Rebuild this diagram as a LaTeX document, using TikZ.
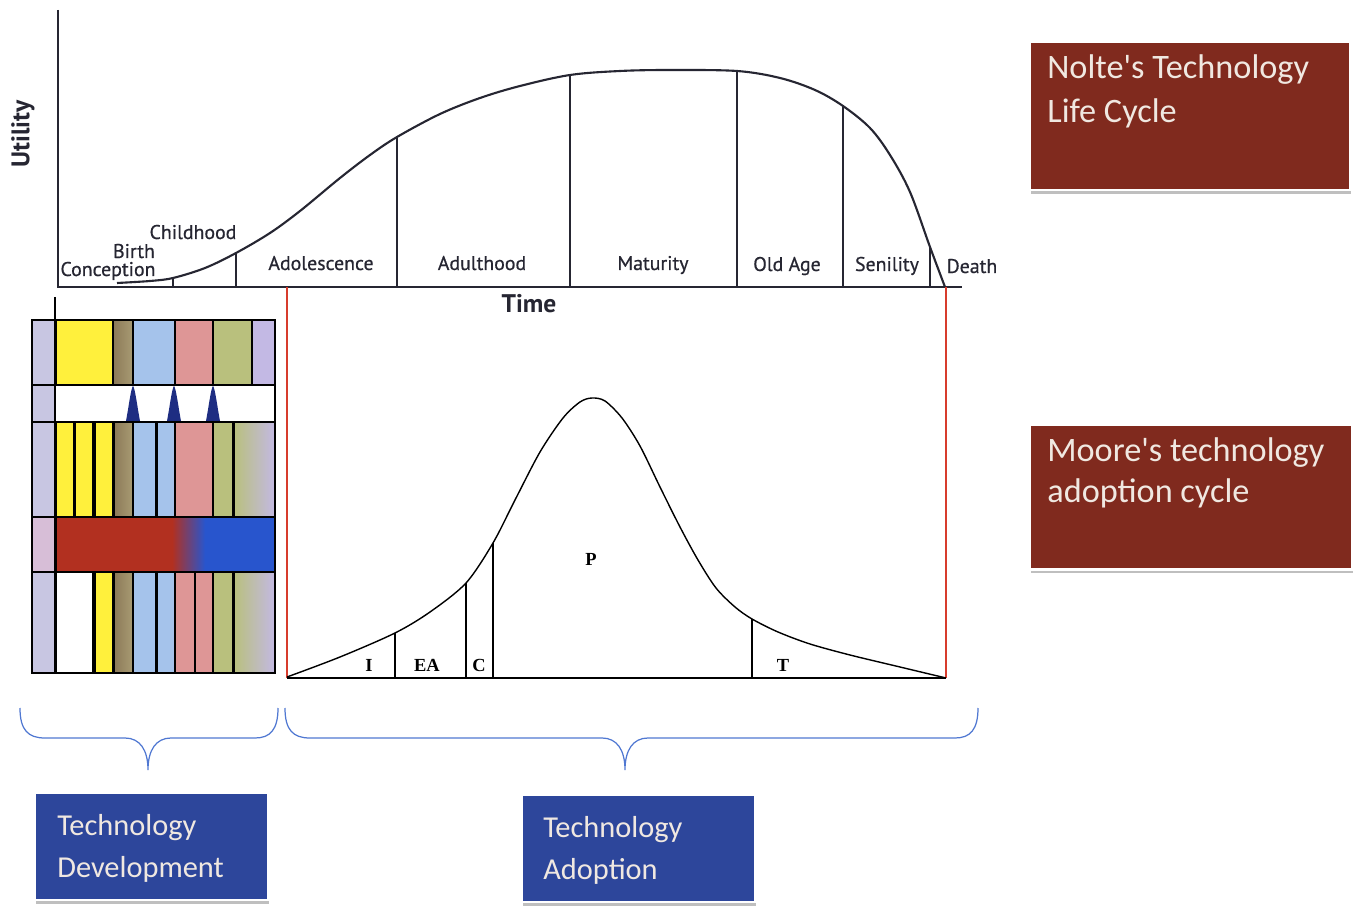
\documentclass[tikz,border=0pt]{standalone}
\usepackage{fontspec}
\setmainfont{PT Sans}
\newfontfamily\stagefont{PT Sans}[FakeBold=0.6]
\newfontfamily\boxfont{Carlito}
\newfontfamily\bellfont{Liberation Serif}
\usetikzlibrary{shadows}

\definecolor{inkline}{RGB}{38,38,50}
\definecolor{redline}{RGB}{215,60,45}
\definecolor{brick}{RGB}{128,42,30}
\definecolor{navybox}{RGB}{45,70,155}
\definecolor{bracecol}{RGB}{80,120,210}
\definecolor{boxtextcol}{RGB}{240,232,225}
\definecolor{hdrcol}{RGB}{200,198,226}
\definecolor{hdrpink}{RGB}{215,190,215}
\definecolor{yelcol}{RGB}{255,240,60}
\definecolor{khakiA}{RGB}{140,122,88}
\definecolor{khakiB}{RGB}{168,155,115}
\definecolor{lbluecol}{RGB}{165,195,235}
\definecolor{pinkcol}{RGB}{222,150,150}
\definecolor{olivecol}{RGB}{185,192,125}
\definecolor{lavcol}{RGB}{195,185,228}
\definecolor{devred}{RGB}{178,48,32}
\definecolor{devblue}{RGB}{40,85,205}
\definecolor{conecol}{RGB}{30,45,130}

\tikzset{
  axisline/.style={draw=inkline, line width=1.2pt},
  divider/.style={draw=inkline, line width=0.9pt},
  lifecurve/.style={draw=inkline, line width=1.2pt},
  stage/.style={font=\stagefont\fontsize{11.3}{13}\selectfont, text=inkline, inner sep=0pt, anchor=base},
  axislabel/.style={font=\bfseries\fontsize{14.5}{16}\selectfont, text=inkline, inner sep=0pt},
  bellline/.style={draw=black, line width=0.8pt},
  belllabel/.style={font=\bellfont\bfseries\fontsize{10.5}{12}\selectfont, inner sep=0pt, anchor=base},
  redmark/.style={draw=redline, line width=1pt},
  cell/.style={draw=black, line width=0.7pt},
  brace/.style={draw=bracecol, line width=0.7pt},
  panel/.style={draw=white, line width=1.5pt, inner sep=0pt,
    drop shadow={shadow xshift=0.6pt, shadow yshift=-2.2pt, fill=black!55, opacity=0.45}},
  redpanel/.style={panel, fill=brick, minimum width=6.4cm, minimum height=2.96cm},
  bluepanel/.style={panel, fill=navybox, minimum width=4.66cm, minimum height=2.14cm},
  paneltext/.style={font=\boxfont\fontsize{19.5}{22}\selectfont, text=boxtextcol, inner sep=0pt, anchor=base west},
  smallpaneltext/.style={paneltext, font=\boxfont\fontsize{17.3}{20}\selectfont},
}

\begin{document}
\begin{tikzpicture}[x=0.02cm, y=-0.02cm]
\path[use as bounding box, fill=white] (0,0) rectangle (1360,915);

% ---------- life cycle chart ----------
\draw[axisline] (58,10) -- (58,287) -- (962,287);
\draw[lifecurve] plot[smooth, tension=0.55] coordinates {
  (117,283) (150,281) (173,278) (205,268) (236,253) (270,233) (300,211)
  (340,178) (370,155) (397,137) (440,114) (480,98) (520,86) (570,75)
  (620,71) (670,70) (737,71) (780,78) (815,90) (843,106) (870,128)
  (890,155) (910,192) (930,247) (945,287)};
\draw[divider] (173,287) -- (173,278);
\draw[divider] (236,287) -- (236,253);
\draw[divider] (397,287) -- (397,137);
\draw[divider] (570,287) -- (570,75);
\draw[divider] (737,287) -- (737,71);
\draw[divider] (843,287) -- (843,106);
\draw[divider] (930,287) -- (930,247);

\node[axislabel, rotate=90] (utility) at (23,134) {Utility};
\node[axislabel, anchor=base] (time) at (529,313) {Time};

\node[stage] (conception) at (108,276) {Conception};
\node[stage] (birth) at (134,258) {Birth};
\node[stage] (childhood) at (193,239) {Childhood};
\node[stage] (adolescence) at (321,270) {Adolescence};
\node[stage] (adulthood) at (482,270) {Adulthood};
\node[stage] (maturity) at (653,270) {Maturity};
\node[stage] (oldage) at (787,271) {Old Age};
\node[stage] (senility) at (887,271) {Senility};
\node[stage] (death) at (972,273) {Death};

% ---------- adoption bell curve ----------
\draw[redmark] (287,287) -- (287,678);
\draw[redmark] (946,287) -- (946,678);
\draw[bellline] (287,678) -- (946,678);
\draw[bellline] plot[smooth, tension=0.5] coordinates {
  (287,677) (340,657) (395,633) (430,612) (466,583) (493,543) (515,500)
  (540,452) (563,418) (580,402) (592,398) (605,401) (622,418) (640,446)
  (660,487) (680,527) (698,560) (716,588) (735,607) (752,619) (778,632)
  (810,644) (850,655) (900,667) (946,678)};
\draw[bellline] (395,678) -- (395,633);
\draw[bellline] (466,678) -- (466,583);
\draw[bellline] (493,678) -- (493,543);
\draw[bellline] (752,678) -- (752,619);

\node[belllabel] (innov) at (369,671) {I};
\node[belllabel] (early) at (427,671) {EA};
\node[belllabel] (chasm) at (479,671) {C};
\node[belllabel] (prag) at (591,565) {P};
\node[belllabel] (trail) at (783,671) {T};

% ---------- development table ----------
\draw[cell] (55,297) -- (55,320);
% row 1
\draw[cell, fill=hdrcol] (32,320) rectangle (55,385);
\draw[cell, fill=yelcol] (56,320) rectangle (113,385);
\draw[cell, left color=khakiA, right color=khakiB] (113,320) rectangle (133,385);
\draw[cell, fill=lbluecol] (133,320) rectangle (175,385);
\draw[cell, fill=pinkcol] (175,320) rectangle (213,385);
\draw[cell, fill=olivecol] (213,320) rectangle (252,385);
\draw[cell, fill=lavcol] (252,320) rectangle (275,385);
% row 2
\draw[cell, fill=hdrcol] (32,385) rectangle (55,422);
\draw[cell, fill=white] (55,385) rectangle (275,422);
\foreach \cx in {133,174,213}
  \fill[conecol] (\cx-7,421) .. controls (\cx-4,405) and (\cx-2,388) .. (\cx,386)
    .. controls (\cx+2,388) and (\cx+4,405) .. (\cx+7,421) -- cycle;
% row 3
\draw[cell, fill=hdrcol] (32,422) rectangle (55,517);
\draw[cell, fill=yelcol] (56,422) rectangle (74,517);
\draw[cell, fill=yelcol] (75,422) rectangle (93,517);
\draw[cell, fill=yelcol] (95,422) rectangle (113,517);
\draw[cell, left color=khakiA, right color=khakiB] (114,422) rectangle (133,517);
\draw[cell, fill=lbluecol] (133,422) rectangle (156,517);
\draw[cell, fill=lbluecol] (157,422) rectangle (175,517);
\draw[cell, fill=pinkcol] (175,422) rectangle (213,517);
\draw[cell, fill=olivecol] (213,422) rectangle (233,517);
\draw[cell, left color=olivecol, right color=lavcol] (234,422) rectangle (275,517);
% row 4
\draw[cell, fill=hdrpink] (32,517) rectangle (55,572);
\fill[devred] (56,517) rectangle (172,572);
\shade[left color=devred, right color=devblue] (172,517) rectangle (205,572);
\fill[devblue] (205,517) rectangle (275,572);
\draw[cell] (56,517) rectangle (275,572);
% row 5
\draw[cell, fill=hdrcol] (32,572) rectangle (55,673);
\draw[cell, fill=white] (56,572) rectangle (93,673);
\draw[cell, fill=yelcol] (95,572) rectangle (113,673);
\draw[cell, left color=khakiA, right color=khakiB] (114,572) rectangle (133,673);
\draw[cell, fill=lbluecol] (133,572) rectangle (156,673);
\draw[cell, fill=lbluecol] (157,572) rectangle (175,673);
\draw[cell, fill=pinkcol] (175,572) rectangle (195,673);
\draw[cell, fill=pinkcol] (195,572) rectangle (213,673);
\draw[cell, fill=olivecol] (213,572) rectangle (233,673);
\draw[cell, left color=olivecol, right color=lavcol] (234,572) rectangle (275,673);

% ---------- braces ----------
\coordinate (devtip) at (148,770);
\coordinate (adotip) at (625,770);
\draw[brace] (20,708) .. controls (20,730) and (28,738) .. (45,738) -- (125,738)
  .. controls (140,738) and (148,750) .. (devtip)
  .. controls (148,750) and (156,738) .. (171,738) -- (255,738)
  .. controls (270,738) and (278,730) .. (278,708);
\draw[brace] (285,708) .. controls (285,730) and (293,738) .. (310,738) -- (602,738)
  .. controls (617,738) and (625,750) .. (adotip)
  .. controls (625,750) and (633,738) .. (648,738) -- (955,738)
  .. controls (970,738) and (978,730) .. (978,708);

% ---------- caption panels ----------
\node[redpanel] (nolte) at (1190,116) {};
\node[paneltext] (nolteA) at (1047,79) {Nolte's Technology};
\node[paneltext] (nolteB) at (1047,123) {Life Cycle};

\node[redpanel, minimum width=6.44cm, minimum height=2.9cm] (moore) at (1191,497) {};
\node[paneltext] (mooreA) at (1047,462) {Moore's technology};
\node[paneltext] (mooreB) at (1047,503) {adoption cycle};

\node[bluepanel] (devbox) at (151.5,846.5) {};
\node[smallpaneltext] (devA) at (57,835) {Technology};
\node[smallpaneltext] (devB) at (57,877) {Development};

\node[bluepanel] (adobox) at (638.5,848.5) {};
\node[smallpaneltext] (adoA) at (543,837) {Technology};
\node[smallpaneltext] (adoB) at (543,879) {Adoption};
\end{tikzpicture}
\end{document}
